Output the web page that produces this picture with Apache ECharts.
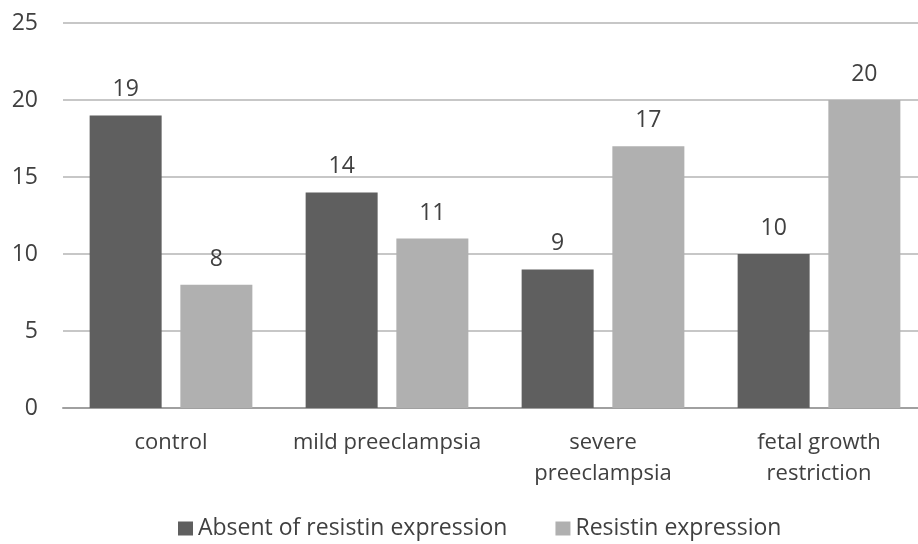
<!DOCTYPE html>
<html lang="en">
<head>
    <meta charset="UTF-8">
    <title>Resistin expression</title>
    <script src="https://cdn.jsdelivr.net/npm/echarts@6/dist/echarts.min.js"></script>
    <style>
        html, body { margin: 0; padding: 0; background: #fff; overflow: hidden; }
        /* the original plot runs a little past the right edge of the picture */
        #chart { width: 928px; height: 544px; }
    </style>
</head>
<body>
<div id="chart"></div>
<script type="text/javascript">
    var categories = ['control', 'mild preeclampsia', 'severe\npreeclampsia', 'fetal growth\nrestriction'];
    var absentValues = [19, 14, 9, 10];
    var resistinValues = [8, 11, 17, 20];
    var seriesNames = ['Absent of resistin expression', 'Resistin expression'];

    var font = '"Open Sans", "Noto Sans", sans-serif';
    var txt = '#404040';

    var chart = echarts.init(document.getElementById('chart'));
    var labelOpt = {
        show: true,
        position: 'top',
        distance: 14,
        color: txt,
        fontSize: 23,
        fontFamily: font
    };
    chart.setOption({
        animation: false,
        textStyle: { fontFamily: font },
        grid: { left: 63, top: 23, right: 1, bottom: 136, containLabel: false },
        legend: {
            left: 178,
            top: 517,
            padding: 0,
            itemWidth: 15,
            itemHeight: 14,
            itemGap: 48,
            icon: 'rect',
            textStyle: { color: txt, fontSize: 23, fontFamily: font },
            data: seriesNames
        },
        xAxis: {
            type: 'category',
            data: categories,
            axisTick: { show: false },
            axisLine: { lineStyle: { color: '#a0a0a0', width: 2 } },
            axisLabel: { interval: 0, color: txt, fontSize: 22, fontFamily: font, margin: 19, lineHeight: 31 }
        },
        yAxis: {
            type: 'value',
            min: 0,
            max: 25,
            interval: 5,
            axisLine: { show: false },
            axisTick: { show: false },
            splitLine: { lineStyle: { color: '#b4b4b4', width: 1.5 } },
            axisLabel: { color: txt, fontSize: 23, fontFamily: font, margin: 25 }
        },
        series: [
            {
                name: seriesNames[0],
                type: 'bar',
                data: absentValues,
                barWidth: 72,
                barGap: '26%',
                itemStyle: { color: '#5f5f5f' },
                label: labelOpt
            },
            {
                name: seriesNames[1],
                type: 'bar',
                data: resistinValues,
                barWidth: 72,
                itemStyle: { color: '#b0b0b0' },
                label: labelOpt
            }
        ]
    });
</script>
</body>
</html>
